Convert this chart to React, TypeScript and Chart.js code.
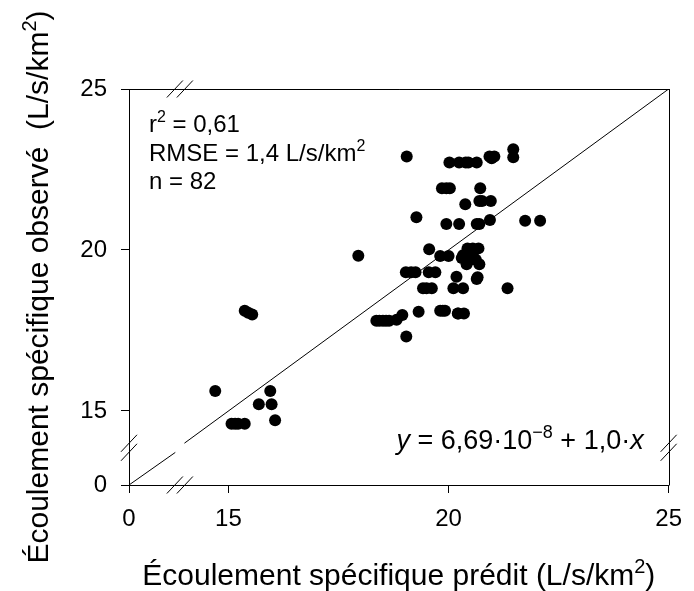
import React, { useEffect, useRef } from 'react';
import { Chart, registerables, LinearScale } from 'chart.js';

// ---------------- data ----------------
const predicted: number[] = [
  15.37, 15.54, 14.70, 15.95, 15.69, 15.98, 16.06, 15.07, 15.22, 15.37,
  17.95,
  18.36, 18.51, 18.65, 18.82, 18.95, 19.04,
  19.32, 19.81, 19.92, 20.21, 20.35,
  19.42, 19.62, 20.11, 20.33, 21.34,
  19.03, 19.25, 19.55, 19.70, 20.18, 20.64,
  20.43, 20.68, 20.33, 20.55, 20.41, 20.70, 19.56, 19.81, 20.00,
  19.27, 19.95, 20.24, 20.64, 20.94, 21.74, 22.08,
  20.38, 20.76, 20.96, 19.85, 20.03, 20.72,
  19.05, 20.02, 20.24, 20.39, 20.64, 20.93, 21.04, 21.47, 21.47,
  20.55, 20.50, 20.62, 20.45, 20.98, 18.43, 18.58, 19.15, 20.70, 19.95,
  20.22, 19.87, 15.15, 15.45, 20.70, 20.30, 20.66, 19.50,
];
const observed: number[] = [
  18.11, 18.00, 15.62, 15.62, 15.21, 15.21, 14.71, 14.60, 14.60, 14.60,
  19.82,
  17.80, 17.80, 17.80, 17.83, 17.98, 17.31,
  18.08, 18.11, 18.11, 18.03, 18.03,
  18.81, 18.81, 18.81, 18.81, 18.81,
  19.31, 19.31, 19.31, 19.31, 19.17, 19.10,
  20.05, 20.05, 19.84, 19.84, 19.56, 19.56, 20.02, 19.81, 19.81,
  21.02, 20.81, 20.81, 20.81, 20.93, 20.91, 20.91,
  21.42, 21.52, 21.52, 21.92, 21.92, 21.92,
  22.90, 22.72, 22.72, 22.72, 22.72, 22.90, 22.90, 23.13, 22.88,
  20.05, 19.70, 19.70, 22.72, 22.85, 17.80, 17.80, 19.31, 21.52, 21.92,
  18.03, 18.11, 14.60, 18.05, 20.81, 19.75, 19.15, 18.81,
];
// 1:1 line, drawn in two pieces on either side of the axis break
const oneToOneLow: number[] = [0, 7];
const oneToOneHigh: number[] = [14, 25];
const xTicks: number[] = [0, 15, 20, 25];
const yTicks: number[] = [0, 15, 20, 25];

type Seg = { t: string; sup?: boolean; italic?: boolean };
const statLines: Seg[][] = [
  [{ t: 'r' }, { t: '2', sup: true }, { t: ' = 0,61' }],
  [{ t: 'RMSE = 1,4 L/s/km' }, { t: '2', sup: true }],
  [{ t: 'n = 82' }],
];
const equation: Seg[] = [
  { t: 'y', italic: true }, { t: ' = 6,69·10' }, { t: '−8', sup: true },
  { t: ' + 1,0·' }, { t: 'x', italic: true },
];
const xTitle: Seg[] = [{ t: 'Écoulement spécifique prédit (L/s/km' }, { t: '2', sup: true }, { t: ')' }];
const yTitle: Seg[] = [{ t: 'Écoulement spécifique observé  (L/s/km' }, { t: '2', sup: true }, { t: ')' }];

const FONT = '"Liberation Sans", Arial, Helvetica, sans-serif';

// ---------------- broken linear scale ----------------
class BrokenLinearScale extends LinearScale {
  static id = 'brokenLinear';
  static defaults = LinearScale.defaults;

  _bk() {
    const b: any = (this.options as any).breaks;
    return {
      v: [this.min, b.lowMax, b.highMin, this.max],
      f: [0, b.lowFrac, b.highFrac, 1],
    };
  }
  getPixelForValue(value: any) {
    if (value === null || value === undefined || isNaN(value)) return NaN;
    const { v, f } = this._bk();
    let d = 0;
    for (let i = 0; i < 3; i++) {
      if (value <= v[i + 1] || i === 2) {
        d = f[i] + ((value - v[i]) / (v[i + 1] - v[i])) * (f[i + 1] - f[i]);
        break;
      }
    }
    return this.getPixelForDecimal(d);
  }
  getValueForPixel(pixel: number) {
    const d = this.getDecimalForPixel(pixel);
    const { v, f } = this._bk();
    for (let i = 0; i < 3; i++) {
      if (d <= f[i + 1] || i === 2) {
        return v[i] + ((d - f[i]) / (f[i + 1] - f[i])) * (v[i + 1] - v[i]);
      }
    }
    return 0;
  }
}

Chart.register(...registerables, BrokenLinearScale);

function segFont(size: number, s: Seg) {
  return `${s.italic ? 'italic ' : ''}${s.sup ? Math.round(size * 0.68) : size}px ${FONT}`;
}
function drawRich(ctx: CanvasRenderingContext2D, segs: Seg[], x: number, y: number, size: number, align: string) {
  let w = 0;
  for (const s of segs) { ctx.font = segFont(size, s); w += ctx.measureText(s.t).width; }
  let cx = align === 'center' ? x - w / 2 : align === 'right' ? x - w : x;
  ctx.textAlign = 'left';
  ctx.textBaseline = 'alphabetic';
  for (const s of segs) {
    ctx.font = segFont(size, s);
    ctx.fillText(s.t, cx, s.sup ? y - size * 0.4 : y);
    cx += ctx.measureText(s.t).width;
  }
}

const decor = {
  id: 'decor',
  afterDraw(chart: any) {
    const { ctx, chartArea: a, scales } = chart;
    const xs = scales.x, ys = scales.y;
    ctx.save();
    ctx.strokeStyle = '#000';
    ctx.fillStyle = '#000';
    ctx.lineWidth = 1;
    // frame top and right
    ctx.beginPath();
    ctx.moveTo(a.left, Math.round(a.top) + 0.5);
    ctx.lineTo(a.right + 0.5, Math.round(a.top) + 0.5);
    ctx.moveTo(Math.round(a.right) + 0.5, a.top);
    ctx.lineTo(Math.round(a.right) + 0.5, a.bottom + 0.5);
    ctx.stroke();
    // break marks
    const bx = (xs.getPixelForValue(xs.options.breaks.lowMax) + xs.getPixelForValue(xs.options.breaks.highMin)) / 2;
    const by = (ys.getPixelForValue(ys.options.breaks.lowMax) + ys.getPixelForValue(ys.options.breaks.highMin)) / 2;
    const slash = (cx: number, cy: number) => {
      ctx.moveTo(cx - 8, cy + 8.5);
      ctx.lineTo(cx + 8, cy - 8.5);
    };
    ctx.beginPath();
    for (const yy of [a.bottom, a.top]) { slash(bx - 5, yy); slash(bx + 5, yy); }
    for (const xx of [a.left, a.right]) { slash(xx, by - 4.5); slash(xx, by + 4.5); }
    ctx.stroke();

    // statistics text
    statLines.forEach((line, i) => drawRich(ctx, line, a.left + 20, a.top + 43 + i * 28.7, 24, 'left'));
    drawRich(ctx, equation, a.right - 25, a.bottom - 36, 27, 'right');

    // axis titles
    const ts = 30;
    drawRich(ctx, xTitle, (a.left + a.right) / 2, 585, ts, 'center');
    ctx.translate(48, (a.top + a.bottom) / 2);
    ctx.rotate(-Math.PI / 2);
    drawRich(ctx, yTitle, 0, 0, ts, 'center');
    ctx.restore();
  },
};

export default function App() {
  const ref = useRef<HTMLCanvasElement | null>(null);
  useEffect(() => {
    if (!ref.current) return;
    const tickFont = { size: 24, family: FONT };
    const chart = new Chart(ref.current, {
      type: 'scatter',
      data: {
        datasets: [
          {
            label: '1:1 bas',
            data: oneToOneLow.map((v) => ({ x: v, y: v })),
            showLine: true, borderColor: '#000', borderWidth: 1, pointRadius: 0,
          } as any,
          {
            label: '1:1',
            data: oneToOneHigh.map((v) => ({ x: v, y: v })),
            showLine: true, borderColor: '#000', borderWidth: 1, pointRadius: 0,
          } as any,
          {
            label: 'Observations',
            data: predicted.map((x, i) => ({ x, y: observed[i] })),
            pointRadius: 6, pointHoverRadius: 6, backgroundColor: '#000', borderColor: '#000', borderWidth: 0,
          } as any,
        ],
      },
      options: {
        animation: false,
        responsive: false,
        devicePixelRatio: 1,
        events: [],
        layout: { padding: { top: 89, right: 17, left: 0, bottom: 0 } },
        plugins: { legend: { display: false }, tooltip: { enabled: false } },
        scales: {
          x: {
            type: 'brokenLinear',
            min: 0, max: 25,
            breaks: { lowMax: 7, highMin: 14, lowFrac: 0.0858, highFrac: 0.1027 },
            afterBuildTicks: (s: any) => { s.ticks = xTicks.map((v) => ({ value: v })); },
            afterFit: (s: any) => { s.height = 106; },
            ticks: { font: tickFont, color: '#000', padding: 12, maxRotation: 0, autoSkip: false, callback: (v: any) => String(v) },
            grid: { drawOnChartArea: false, drawTicks: true, tickLength: 8, color: '#000', lineWidth: 1 },
            border: { display: true, color: '#000', width: 1 },
          } as any,
          y: {
            type: 'brokenLinear',
            min: 0, max: 25,
            breaks: { lowMax: 7, highMin: 14, lowFrac: 0.0823, highFrac: 0.1056 },
            afterBuildTicks: (s: any) => { s.ticks = yTicks.map((v) => ({ value: v })); },
            afterFit: (s: any) => { s.width = 129; },
            ticks: { font: tickFont, color: '#000', padding: 14, autoSkip: false, callback: (v: any) => String(v) },
            grid: { drawOnChartArea: false, drawTicks: true, tickLength: 8, color: '#000', lineWidth: 1 },
            border: { display: true, color: '#000', width: 1 },
          } as any,
        },
      } as any,
      plugins: [decor],
    });
    return () => chart.destroy();
  }, []);
  return (
    <div style={{ position: 'absolute', left: 0, top: 0, width: 694, height: 591, background: '#fff' }}>
      <canvas ref={ref} width={694} height={591} style={{ display: 'block', width: 694, height: 591 }} />
    </div>
  );
}
